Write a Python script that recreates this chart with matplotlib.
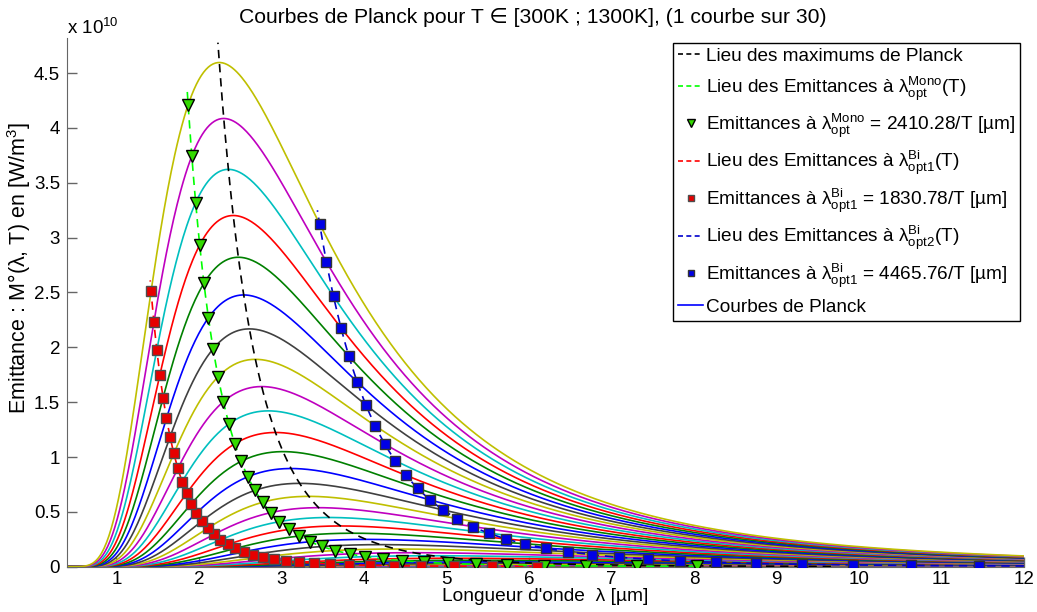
import numpy as np
import matplotlib
matplotlib.use("Agg")
import matplotlib.pyplot as plt
from matplotlib.lines import Line2D
from matplotlib.ticker import FuncFormatter, MultipleLocator

plt.rcParams['font.family'] = ['Liberation Sans', 'DejaVu Sans']
plt.rcParams['mathtext.fontset'] = 'custom'
plt.rcParams['mathtext.rm'] = 'Liberation Sans'
plt.rcParams['mathtext.it'] = 'Liberation Sans:italic'
plt.rcParams['mathtext.bf'] = 'Liberation Sans:bold'

# temperatures of the plotted Planck curves (1 curve every 30 K)
temperatures = [300, 330, 360, 390, 420, 450, 480, 510, 540, 570, 600, 630,
                660, 690, 720, 750, 780, 810, 840, 870, 900, 930, 960, 990,
                1020, 1050, 1080, 1110, 1140, 1170, 1200, 1230, 1260, 1290]
t_range = [300, 1300]
lambda_range = [0.4, 12.0]   # µm

# lambda * T constants [µm.K]
wien_const = 2898.0
mono_const = 2410.28
bi1_const = 1830.78
bi2_const = 4465.76

# MATLAB (old) colour order
color_order = [(0, 0, 1), (0, 0.5, 0), (1, 0, 0), (0, 0.75, 0.75),
               (0.75, 0, 0.75), (0.75, 0.75, 0), (0.25, 0.25, 0.25)]

C1 = 3.7418e-16   # 2 pi h c^2
C2 = 1.4388e-2    # h c / k


def planck(lam_um, T):
    lam = np.asarray(lam_um) * 1e-6
    return C1 / lam**5 / (np.exp(C2 / (lam * T)) - 1.0)


fig = plt.figure(figsize=(10.37, 6.12), dpi=100)
ax = fig.add_axes([0.0646, 0.074, 0.9229, 0.864])

lam = np.linspace(lambda_range[0], lambda_range[1], 800)
for i, T in enumerate(temperatures):
    ax.plot(lam, planck(lam, T), color=color_order[i % 7], lw=1.2, zorder=2)

T_cont = np.linspace(t_range[0], t_range[1], 600)
T_pts = np.array(temperatures, dtype=float)

green_fill = (0.2, 0.85, 0)
ax.plot(wien_const / T_cont, planck(wien_const / T_cont, T_cont), ls='--',
        color='k', lw=1.2, dashes=(5, 3.5), zorder=3)
ax.plot(mono_const / T_cont, planck(mono_const / T_cont, T_cont), ls='--',
        color=(0, 1, 0), lw=1.2, dashes=(5, 3.5), zorder=3)
ax.plot(mono_const / T_pts, planck(mono_const / T_pts, T_pts), ls='none',
        marker='v', ms=8, mfc=green_fill, mec='k', mew=1.0, zorder=4)
ax.plot(bi1_const / T_cont, planck(bi1_const / T_cont, T_cont), ls='--',
        color=(1, 0, 0), lw=1.2, dashes=(5, 3.5), zorder=3)
ax.plot(bi1_const / T_pts, planck(bi1_const / T_pts, T_pts), ls='none',
        marker='s', ms=6.5, mfc=(0.9, 0, 0), mec=(0.3, 0.3, 0.3), mew=1.0, zorder=4)
ax.plot(bi2_const / T_cont, planck(bi2_const / T_cont, T_cont), ls='--',
        color=(0, 0, 0.8), lw=1.2, dashes=(5, 3.5), zorder=3)
ax.plot(bi2_const / T_pts, planck(bi2_const / T_pts, T_pts), ls='none',
        marker='s', ms=6.5, mfc=(0, 0, 0.9), mec=(0.2, 0.2, 0.2), mew=1.0, zorder=4)

ax.set_xlim(lambda_range)
ax.set_ylim(0, 4.82e10)
ax.xaxis.set_major_locator(MultipleLocator(1))
ax.yaxis.set_major_locator(MultipleLocator(0.5e10))
ax.xaxis.set_major_formatter(FuncFormatter(lambda v, p: '%g' % v))
ax.yaxis.set_major_formatter(FuncFormatter(lambda v, p: '%g' % (v / 1e10)))

for side in ['top', 'right']:
    ax.spines[side].set_visible(False)
for side in ['left', 'bottom']:
    ax.spines[side].set_color((0.4, 0.4, 0.4))
ax.tick_params(direction='in', length=7, width=1, color=(0.4, 0.4, 0.4),
               labelsize=13.5, pad=5)
ax.tick_params(axis='x', pad=3)

ax.text(0.0, 1.008, r'x 10$^{10}$', transform=ax.transAxes, fontsize=13.5,
        ha='left', va='baseline')
ax.set_title('Courbes de Planck pour T \u2208 [300K ; 1300K], (1 courbe sur 30)',
             fontsize=15.2, pad=11, x=0.487)
ax.set_xlabel("Longueur d'onde  \u03bb [\u00b5m]", fontsize=13.8, labelpad=0)
ax.set_ylabel('Emittance : M\u00b0(\u03bb, T) en [W/m$^3$]', fontsize=15.5)
ax.yaxis.set_label_coords(-0.035, 0.565)

a_grave = '\u00e0'
mu = '\u00b5'
handles = [
    Line2D([], [], ls='--', color='k', lw=1.2, dashes=(3, 2)),
    Line2D([], [], ls='--', color=(0, 1, 0), lw=1.2, dashes=(3, 2)),
    Line2D([], [], ls='none', marker='v', ms=6, mfc=green_fill, mec='k'),
    Line2D([], [], ls='--', color=(1, 0, 0), lw=1.2, dashes=(3, 2)),
    Line2D([], [], ls='none', marker='s', ms=5, mfc=(0.9, 0, 0), mec=(0.3, 0.3, 0.3)),
    Line2D([], [], ls='--', color=(0, 0, 0.8), lw=1.2, dashes=(3, 2)),
    Line2D([], [], ls='none', marker='s', ms=5, mfc=(0, 0, 0.9), mec=(0.2, 0.2, 0.2)),
    Line2D([], [], ls='-', color=(0, 0, 1), lw=1.2),
]
labels = [
    'Lieu des maximums de Planck',
    'Lieu des Emittances ' + a_grave + r' $\mathrm{\lambda}_{\mathrm{opt}}^{\mathrm{Mono}}$(T)',
    'Emittances ' + a_grave + r' $\mathrm{\lambda}_{\mathrm{opt}}^{\mathrm{Mono}}$ = 2410.28/T [' + mu + 'm]',
    'Lieu des Emittances ' + a_grave + r' $\mathrm{\lambda}_{\mathrm{opt1}}^{\mathrm{Bi}}$(T)',
    'Emittances ' + a_grave + r' $\mathrm{\lambda}_{\mathrm{opt1}}^{\mathrm{Bi}}$ = 1830.78/T [' + mu + 'm]',
    'Lieu des Emittances ' + a_grave + r' $\mathrm{\lambda}_{\mathrm{opt2}}^{\mathrm{Bi}}$(T)',
    'Emittances ' + a_grave + r' $\mathrm{\lambda}_{\mathrm{opt1}}^{\mathrm{Bi}}$ = 4465.76/T [' + mu + 'm]',
    'Courbes de Planck',
]
leg = ax.legend(handles, labels, loc='upper right',
                bbox_to_anchor=(1020 / 1037, 1 - 43 / 612),
                bbox_transform=fig.transFigure, fontsize=13.7,
                handlelength=1.35, handletextpad=0.15, labelspacing=0.48,
                borderpad=0.25, borderaxespad=0, fancybox=False,
                framealpha=1, edgecolor='k')
leg.get_frame().set_linewidth(1.0)
leg.set_zorder(10)

fig.savefig('out.png', dpi=100)
